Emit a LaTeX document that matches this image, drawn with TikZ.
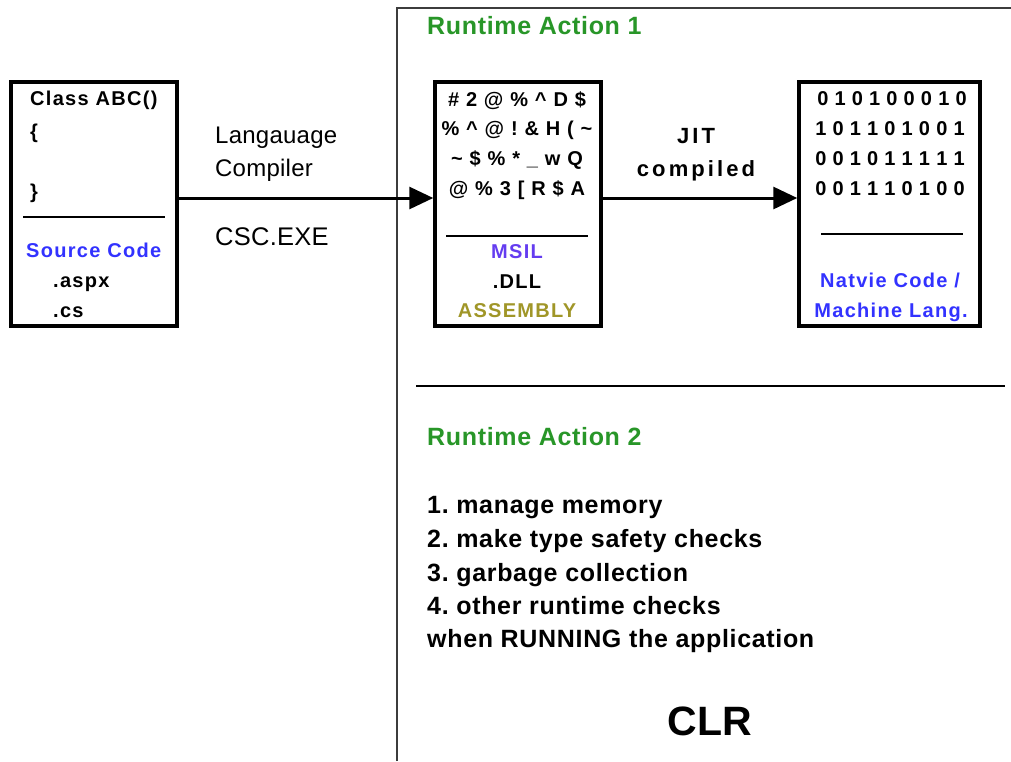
\documentclass[tikz,border=0pt]{standalone}
\usepackage{fontspec}
\setmainfont{Liberation Sans}
\usetikzlibrary{arrows.meta}
\definecolor{rtgreen}{RGB}{40,150,40}
\definecolor{srcblue}{RGB}{50,50,255}
\definecolor{msilblue}{RGB}{100,60,240}
\definecolor{asmolive}{RGB}{160,150,40}
\definecolor{framegray}{RGB}{60,60,60}
\newcommand{\fs}[2]{\fontsize{#1}{#1}\selectfont\addfontfeature{LetterSpace=#2}}
\frenchspacing
\begin{document}
\begin{tikzpicture}[x=1pt,y=-1pt,
  box/.style={draw,line width=3.5pt,minimum width=#1,minimum height=244pt,inner sep=0pt},
  sep/.style={line width=1.5pt},
  tl/.style={anchor=base west,inner sep=0pt},
  tc/.style={anchor=base,inner sep=0pt},
  boxtxt/.style={font=\bfseries\fs{20}{6.5}},
  bintxt/.style={font=\bfseries\fs{20}{3}},
  big/.style={font=\bfseries\fs{25}{2.7}},
  arr/.style={line width=3pt,-{Triangle[length=24pt,width=22pt]}}]
\useasboundingbox (0,0) rectangle (1011,761);
% frame of the CLR region
\coordinate (fb) at (397,761);
\coordinate (fc) at (397,8);
\coordinate (fr) at (1011,8);
\draw[line width=1.8pt,framegray] (fb) -- (fc) -- (fr);
\coordinate (s1) at (416,386);
\coordinate (s2) at (1005,386);
\draw[line width=1.5pt] (s1) -- (s2);

% boxes
\node[box=166pt] (src) at (94,204) {};
\node[box=166pt] (msil) at (518,204) {};
\node[box=181pt] (nat) at (889.5,204) {};

% box 1
\coordinate (a1) at (23,217); \coordinate (a2) at (165,217);
\draw[sep] (a1) -- (a2);
\node[tl,boxtxt] (t11) at (30,105) {Class ABC()};
\node[tl,boxtxt] (t12) at (30,138) {\{};
\node[tl,boxtxt] (t13) at (30,198) {\}};
\node[tl,boxtxt,text=srcblue] (t14) at (26,257) {Source Code};
\node[tl,boxtxt] (t15) at (53,287) {.aspx};
\node[tl,boxtxt] (t16) at (53,317) {.cs};

% box 2
\coordinate (b1) at (446,236); \coordinate (b2) at (588,236);
\draw[sep] (b1) -- (b2);
\node[tc,boxtxt] (t21) at (517,106) {\# 2 @ \% \^{} D \$};
\node[tc,boxtxt] (t22) at (517,135) {\% \^{} @ ! \& H ( \textasciitilde};
\node[tc,boxtxt] (t23) at (517,165) {\textasciitilde{} \$ \% * \_ w Q};
\node[tc,boxtxt] (t24) at (517,195) {@ \% 3 [ R \$ A};
\node[tc,boxtxt,text=msilblue] (t25) at (517,258) {MSIL};
\node[tc,boxtxt] (t26) at (517,288) {.DLL};
\node[tc,boxtxt,text=asmolive] (t27) at (517,317) {ASSEMBLY};

% box 3
\coordinate (c1) at (821,234); \coordinate (c2) at (963,234);
\draw[sep] (c1) -- (c2);
\node[tc,bintxt] (t31) at (892,105) {0 1 0 1 0 0 0 1 0};
\node[tc,bintxt] (t32) at (890,135) {1 0 1 1 0 1 0 0 1};
\node[tc,bintxt] (t33) at (890,165) {0 0 1 0 1 1 1 1 1};
\node[tc,bintxt] (t34) at (890,195) {0 0 1 1 1 0 1 0 0};
\node[tc,boxtxt,text=srcblue] (t35) at (890,287) {Natvie Code /};
\node[tc,boxtxt,text=srcblue] (t36) at (891,317) {Machine Lang.};

% arrows
\draw[arr] ([yshift=6pt]src.east) -- ([yshift=6pt]msil.west);
\draw[arr] ([yshift=6pt]msil.east) -- ([yshift=6pt]nat.west);

% arrow labels
\node[tl,font=\fs{24}{1}] (l1) at (215,143) {Langauage};
\node[tl,font=\fs{24}{1}] (l2) at (215,176) {Compiler};
\node[tl,font=\fs{25.5}{1}] (l3) at (215,245) {CSC.EXE};
\node[tc,font=\bfseries\fs{22}{14}] (j1) at (696,143) {JIT};
\node[tc,font=\bfseries\fs{22}{14}] (j2) at (696,176) {compiled};

% runtime titles
\node[tl,big,text=rtgreen] (r1) at (427,34) {Runtime Action 1};
\node[tl,big,text=rtgreen] (r2) at (427,445) {Runtime Action 2};

% list
\node[tl,big] (i1) at (427,513) {1. manage memory};
\node[tl,big] (i2) at (427,547) {2. make type safety checks};
\node[tl,big] (i3) at (427,581) {3. garbage collection};
\node[tl,big] (i4) at (427,614) {4. other runtime checks};
\node[tl,big] (i5) at (427,647) {when RUNNING the application};

\node[tc,font=\bfseries\fs{41}{0}] (clr) at (710,735) {CLR};
\end{tikzpicture}
\end{document}
